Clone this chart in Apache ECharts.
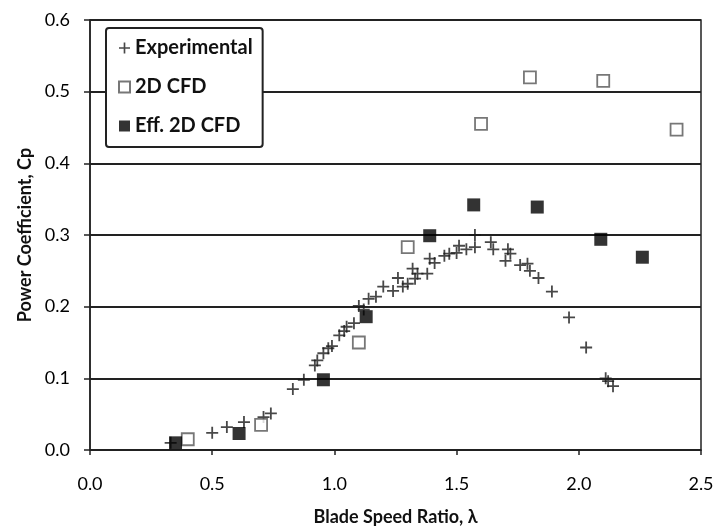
<!DOCTYPE html>
<html>
<head>
<meta charset="utf-8">
<script src="https://cdn.jsdelivr.net/npm/echarts@6/dist/echarts.min.js"></script>
<style>
  html, body { margin: 0; padding: 0; background: #fff; }
  #chart { width: 717px; height: 531px; }
</style>
</head>
<body>
<div id="chart"></div>
<script>
// Measured power coefficient versus blade speed ratio
const expLambda = [0.33, 0.50, 0.56, 0.63, 0.71, 0.74, 0.83, 0.875, 0.92, 0.93, 0.955, 0.975, 0.99, 1.02, 1.04, 1.05, 1.08, 1.10, 1.12, 1.14, 1.17, 1.20, 1.24, 1.26, 1.28, 1.30, 1.32, 1.33, 1.34, 1.38, 1.39, 1.41, 1.45, 1.47, 1.50, 1.51, 1.54, 1.575, 1.575, 1.64, 1.65, 1.70, 1.71, 1.72, 1.76, 1.79, 1.80, 1.835, 1.89, 1.96, 2.03, 2.11, 2.12, 2.14];
const expCp     = [0.010, 0.024, 0.032, 0.039, 0.046, 0.051, 0.085, 0.098, 0.118, 0.125, 0.135, 0.142, 0.145, 0.160, 0.166, 0.172, 0.177, 0.201, 0.196, 0.211, 0.214, 0.228, 0.222, 0.240, 0.228, 0.232, 0.253, 0.239, 0.246, 0.246, 0.267, 0.261, 0.271, 0.274, 0.275, 0.285, 0.280, 0.300, 0.283, 0.290, 0.280, 0.264, 0.280, 0.274, 0.258, 0.260, 0.250, 0.240, 0.221, 0.185, 0.143, 0.100, 0.096, 0.089];

// 2D CFD predictions
const cfdLambda = [0.40, 0.70, 1.10, 1.30, 1.60, 1.80, 2.10, 2.40];
const cfdCp     = [0.015, 0.035, 0.150, 0.283, 0.455, 0.520, 0.515, 0.447];

// Effective 2D CFD predictions
const effLambda = [0.35, 0.61, 0.955, 1.13, 1.39, 1.57, 1.83, 2.09, 2.26];
const effCp     = [0.010, 0.023, 0.098, 0.186, 0.299, 0.342, 0.339, 0.294, 0.269];

const seriesNames = ['Experimental', '2D CFD', 'Eff. 2D CFD'];
const xTitle = 'Blade Speed Ratio, λ';
const yTitle = 'Power Coefficient, Cp';

const pairs = (xs, ys) => xs.map((x, i) => [x, ys[i]]);

const FONT = 'Lato, "Open Sans", sans-serif';
const INK = '#222';
const CROSS = 'path://M4.25,0H5.75V4.25H10V5.75H5.75V10H4.25V5.75H0V4.25H4.25Z';

const chart = echarts.init(document.getElementById('chart'), null, { renderer: 'canvas' });

chart.setOption({
  animation: false,
  backgroundColor: '#fff',
  grid: {
    left: 90, right: 16, top: 20, bottom: 79,
    show: true, borderColor: INK, borderWidth: 1.5, backgroundColor: 'transparent'
  },
  legend: {
    orient: 'vertical',
    left: 106, top: 28,
    width: 157,
    padding: [10, 10, 11, 12],
    itemGap: 19,
    itemWidth: 11, itemHeight: 11,
    borderColor: INK, borderWidth: 2, borderRadius: 3,
    backgroundColor: '#fff',
    textStyle: { fontFamily: FONT, fontWeight: 'bold', fontSize: 20, color: '#111' },
    data: seriesNames
  },
  xAxis: {
    type: 'value',
    min: 0, max: 2.5, interval: 0.5,
    name: xTitle,
    nameLocation: 'middle',
    nameGap: 58,
    nameTextStyle: { fontFamily: FONT, fontWeight: 'bold', fontSize: 18, color: '#111' },
    axisLine: { lineStyle: { color: INK, width: 1.5 } },
    axisTick: { show: true, inside: false, length: 5, lineStyle: { color: INK, width: 1.5 } },
    axisLabel: { fontFamily: FONT, fontSize: 18, color: '#000', margin: 25,
      formatter: v => v.toFixed(1) },
    splitLine: { show: false }
  },
  yAxis: {
    type: 'value',
    min: 0, max: 0.6, interval: 0.1,
    name: yTitle,
    nameLocation: 'middle',
    nameGap: 50,
    nameRotate: 90,
    nameTextStyle: { fontFamily: FONT, fontWeight: 'bold', fontSize: 18, color: '#111' },
    axisLine: { show: true, lineStyle: { color: INK, width: 1.5 } },
    axisTick: { show: true, inside: false, length: 6, lineStyle: { color: INK, width: 1.5 } },
    axisLabel: { fontFamily: FONT, fontSize: 18, color: '#000', margin: 20,
      formatter: v => v.toFixed(1) },
    splitLine: { show: true, lineStyle: { color: INK, width: 1.8 } }
  },
  series: [
    {
      name: seriesNames[0],
      type: 'scatter',
      symbol: CROSS,
      symbolSize: 12,
      itemStyle: { color: '#1a1a1a' },
      data: pairs(expLambda, expCp),
      z: 2
    },
    {
      name: seriesNames[1],
      type: 'scatter',
      symbol: 'rect',
      symbolSize: 12,
      itemStyle: { color: '#fff', borderColor: '#555', borderWidth: 1.8 },
      data: pairs(cfdLambda, cfdCp),
      z: 3
    },
    {
      name: seriesNames[2],
      type: 'scatter',
      symbol: 'rect',
      symbolSize: 13,
      itemStyle: { color: '#000' },
      data: pairs(effLambda, effCp),
      z: 4
    }
  ]
});
</script>
</body>
</html>
